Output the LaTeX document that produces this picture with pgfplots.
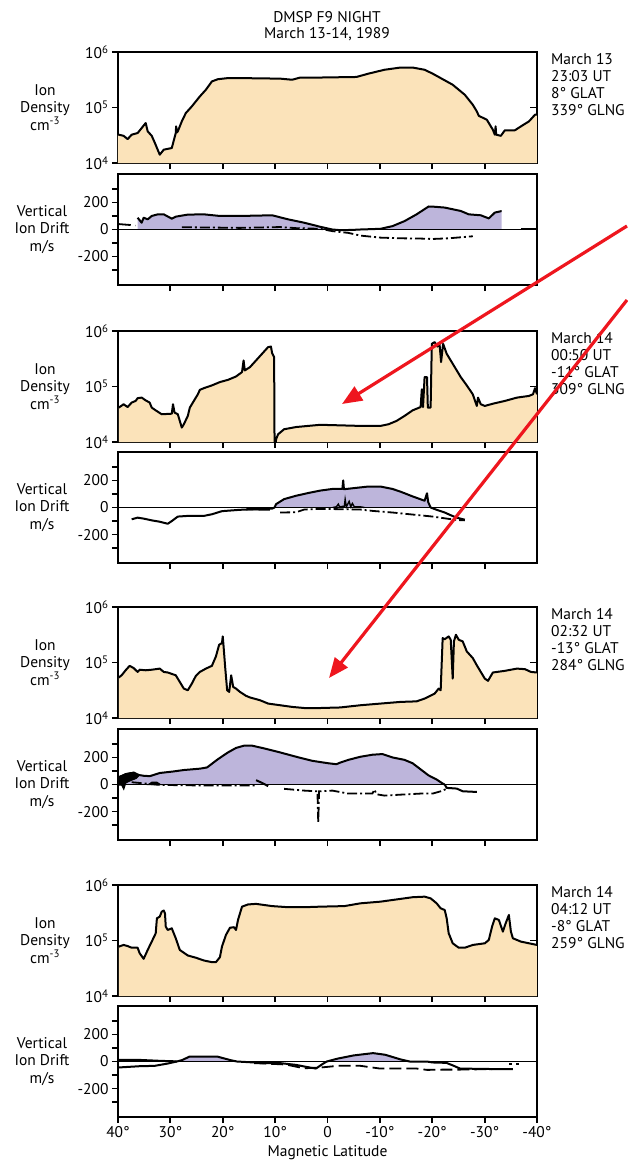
\documentclass[border=0pt]{standalone}
\usepackage{fontspec}
\setmainfont{PT Sans}
\usepackage{pgfplots}
\usepackage{pgfplotstable}
\pgfplotsset{compat=1.18}
\usetikzlibrary{arrows.meta}
\definecolor{peach}{RGB}{251,227,186}
\definecolor{lav}{RGB}{189,181,219}
\definecolor{arrowred}{RGB}{238,22,30}
\newcommand\lf{\fontsize{15.5}{17.2}\selectfont}

\pgfplotsset{
 base/.style={scale only axis, width=419pt, height=111pt, anchor=north west,
   xmin=-40, xmax=40, x dir=reverse,
   xtick={-30,-20,...,30}, xticklabels={},
   xtick pos=lower, ytick pos=left,
   tick align=outside, major tick length=6pt,
   every tick/.style={black, line width=1.8pt},
   axis line style={line width=2.1pt},
   tick label style={font=\lf},
   /pgf/number format/assume math mode=true,
   clip=true},
 dens/.style={base, ymin=4, ymax=6, ytick={4,5,6},
   yticklabels={10\textsuperscript{4},10\textsuperscript{5},10\textsuperscript{6}}},
 drift/.style={base, ymin=-410, ymax=410, ytick={-300,-200,...,300},
   yticklabels={,-200,,0,,200,}},
 curve/.style={black, line width=2pt, line join=round, mark=none},
 dd/.style={black, line width=1.8pt, mark=none, dash pattern=on 10pt off 3pt on 2pt off 3pt},
 dsh/.style={black, line width=1.8pt, mark=none, dash pattern=on 12pt off 5pt},
}

% ---------- log10 ion density, pass 1 ----------
\pgfplotstableread{
lat n
40 4.51
39.85 4.51
38.93 4.49
38.16 4.43
37.39 4.51
36.25 4.54
35.48 4.63
34.71 4.72
34.33 4.57
33.56 4.49
32.95 4.36
32.03 4.15
31.26 4.24
29.73 4.27
28.97 4.54
28.90 4.66
28.75 4.55
28.58 4.57
27.82 4.75
27.05 4.90
25.90 5.02
24.37 5.20
23.22 5.32
22.07 5.47
20.92 5.51
19.00 5.53
16.70 5.53
9.04 5.52
6.74 5.50
5.21 5.54
1.38 5.54
-5.52 5.55
-7.82 5.61
-10.88 5.68
-13.95 5.72
-16.25 5.72
-18.54 5.68
-20.08 5.61
-21.61 5.53
-23.91 5.41
-26.21 5.23
-27.74 5.05
-28.51 4.93
-28.89 4.85
-30.42 4.78
-31.57 4.60
-31.95 4.51
-32.10 4.66
-32.20 4.51
-33.10 4.49
-33.87 4.59
-35.79 4.59
-36.93 4.66
-38.47 4.75
-39.62 4.87
-40 4.87
}\dA

\pgfplotstableread{
lat v
36.25 87
35.48 50
35.10 87
34.33 75
33.56 100
32.41 112
31.26 112
29.73 80
28.97 95
26.67 110
23.60 112
20.54 100
16.70 100
10.57 105
7.51 75
4.44 50
1.38 20
-0.92 0
-2.45 -5
-4.75 -3
-6.28 0
-10.11 5
-12.41 25
-14.71 62
-17.01 112
-19.31 170
-20.46 168
-22.38 162
-25.44 137
-26.97 112
-29.27 105
-30.80 82
-31.95 125
-33.10 135
-33.26 135
}\vAf

\pgfplotstableread{
lat v
27.82 17
16.70 12
9.04 18
5.98 10
1.38 5
-0.92 -12
-3.98 -25
-6.28 -45
-10.11 -60
-13.95 -65
-17.78 -67
-20.08 -70
-23.14 -65
-27.74 -50
}\vAd

% ---------- pass 2 ----------
\pgfplotstableread{
lat n
39.85 4.62
38.93 4.68
38.16 4.63
37.39 4.71
36.63 4.74
36.25 4.79
35.48 4.80
34.71 4.75
33.95 4.71
33.56 4.62
32.80 4.57
31.65 4.50
29.73 4.51
29.50 4.68
29.20 4.53
28.58 4.50
28.20 4.38
27.82 4.26
27.43 4.32
26.67 4.47
26.28 4.62
25.52 4.74
24.75 4.86
24.37 4.94
23.60 4.97
22.07 5.02
20.54 5.08
19.00 5.12
17.47 5.18
16.32 5.26
16.02 5.47
15.79 5.29
14.79 5.35
13.64 5.47
12.49 5.59
11.34 5.71
10.80 5.72
10.57 5.60
10.19 5.53
10.11 4.00
9.96 3.90
9.81 4.05
9.43 4.14
8.28 4.23
5.98 4.27
3.68 4.29
1.38 4.31
-2.45 4.30
-6.28 4.29
-10.11 4.29
-11.65 4.32
-13.18 4.38
-14.71 4.47
-16.25 4.57
-17.78 4.63
-18.01 4.95
-18.24 4.63
-18.54 5.17
-19.00 5.17
-19.16 4.62
-19.69 4.62
-19.92 5.77
-20.46 5.80
-21.00 5.72
-21.38 5.78
-21.69 5.44
-22.07 5.77
-22.76 5.59
-23.91 5.41
-25.44 5.17
-26.59 5.02
-27.74 4.86
-28.51 4.65
-28.74 4.80
-29.27 4.68
-30.04 4.65
-31.57 4.69
-33.87 4.74
-36.17 4.80
-38.47 4.83
-39.23 4.86
-39.62 4.97
-40.00 4.86
}\dB

\pgfplotstableread{
lat v
37.39 -87
36.25 -75
35.10 -82
33.56 -95
32.03 -105
30.50 -120
29.73 -100
28.58 -67
26.67 -62
23.60 -62
22.07 -50
20.15 -27
16.70 -17
13.64 -12
10.57 -8
10.11 0
9.81 25
8.28 62
5.98 87
3.68 107
1.38 125
-0.92 137
-2.84 137
-3.00 200
-3.14 135
-4.75 142
-7.82 155
-10.11 155
-12.41 137
-13.95 117
-16.25 82
-18.54 50
-19.00 105
-19.23 40
-19.69 0
-20.84 -17
-22.38 -37
-23.53 -57
-24.67 -75
-26.21 -90
}\vBs

\pgfplotstableread{
lat v
10.11 0
9.81 25
8.28 62
5.98 87
3.68 107
1.38 125
-0.92 137
-2.84 137
-3.00 200
-3.14 135
-4.75 142
-7.82 155
-10.11 155
-12.41 137
-13.95 117
-16.25 82
-18.54 50
-19.00 105
-19.23 40
-19.69 0
}\vBf

\pgfplotstableread{
lat v
9.04 -37
5.98 -35
4.44 -15
1.38 -10
-6.28 -15
-8.58 -25
-12.41 -37
-17.01 -55
-20.08 -67
-22.38 -80
-24.67 -92
-26.21 -95
}\vBd

% ---------- pass 3 ----------
\pgfplotstableread{
lat n
39.85 4.73
39.31 4.77
38.54 4.86
37.78 4.94
37.01 4.90
36.25 4.83
35.86 4.87
34.71 4.86
33.56 4.87
32.03 4.89
31.26 4.83
30.50 4.82
28.97 4.77
28.20 4.65
27.43 4.53
26.67 4.50
25.90 4.62
25.13 4.76
24.37 4.83
23.22 4.89
22.07 4.94
21.30 5.11
20.69 5.32
20.15 5.35
20.00 5.47
19.85 5.30
19.54 4.92
19.16 4.50
18.77 4.47
18.39 4.77
18.01 4.56
17.47 4.53
16.70 4.47
15.56 4.40
14.79 4.37
12.87 4.32
11.34 4.26
9.04 4.23
6.74 4.20
4.44 4.18
1.38 4.18
-2.45 4.19
-6.28 4.23
-10.11 4.26
-13.95 4.29
-17.01 4.30
-18.54 4.35
-20.46 4.44
-21.23 4.53
-21.61 4.50
-21.99 5.44
-22.38 5.42
-23.14 5.47
-23.53 5.41
-23.91 4.71
-24.14 5.38
-24.52 5.50
-25.06 5.41
-25.82 5.38
-26.59 5.20
-27.74 5.08
-28.51 4.95
-29.27 4.83
-30.04 4.71
-30.65 4.67
-31.57 4.82
-33.87 4.85
-36.17 4.89
-37.70 4.88
-38.85 4.83
-40.00 4.82
}\dC

\pgfplotstableread{
lat v
39.85 55
38.50 75
37.00 88
36.00 70
35.00 64
33.90 62
32.03 85
29.50 96
27.43 107
24.37 117
23.00 126
20.92 187
19.00 237
17.47 270
15.94 287
14.41 287
12.11 267
9.04 237
5.98 205
2.91 175
-0.15 157
-1.69 150
-2.45 162
-3.98 182
-6.28 205
-8.58 220
-10.50 225
-12.41 200
-14.71 182
-16.25 157
-17.78 112
-19.31 67
-20.84 37
-21.99 7
-22.38 0
}\vCf

\pgfplotstableread{
lat v
8.28 -32
4.44 -45
2.15 -50
1.92 -50
1.76 -287
1.61 -50
-0.92 -45
-3.98 -67
-8.58 -67
-8.97 -37
-9.35 -72
-10.88 -82
-13.95 -75
-17.78 -67
-20.08 -67
-21.61 -50
-22.76 -32
}\vCd

% ---------- pass 4 ----------
\pgfplotstableread{
lat n
39.85 4.89
38.93 4.92
38.16 4.90
37.39 4.87
36.25 4.87
35.86 4.77
35.10 4.67
34.33 4.83
33.56 4.98
32.80 5.13
32.57 5.40
32.03 5.43
31.65 5.52
31.26 5.54
31.03 5.49
30.88 5.25
30.50 5.19
29.73 5.22
28.97 5.04
28.20 4.83
26.67 4.73
25.13 4.69
23.60 4.64
22.07 4.61
21.30 4.61
20.54 4.70
20.15 4.89
19.39 5.10
18.62 5.23
17.85 5.24
17.47 5.19
17.09 5.37
16.32 5.61
15.17 5.65
13.64 5.66
10.57 5.62
7.51 5.60
4.44 5.60
1.38 5.61
-3.22 5.62
-6.28 5.67
-10.11 5.70
-13.95 5.75
-16.25 5.78
-18.54 5.79
-19.69 5.76
-20.84 5.67
-21.61 5.58
-22.38 5.55
-22.76 5.40
-23.14 5.13
-23.91 4.95
-25.06 4.87
-26.21 4.87
-27.74 4.92
-30.04 4.95
-30.80 5.01
-31.42 5.25
-31.95 5.40
-32.72 5.37
-33.49 5.16
-34.02 5.31
-34.63 5.46
-35.02 5.16
-35.40 5.04
-36.93 4.98
-38.47 4.95
-40.00 4.92
}\dD

\pgfplotstableread{
lat v
39.85 12
36.00 12
32.00 5
29.50 2
28.80 0
27.80 10
26.30 37
21.10 37
18.50 10
17.30 0
15.00 -5
12.00 -12
9.00 -12
6.00 -25
4.00 -40
2.20 -52
1.00 -20
0.15 0
-2.00 22
-5.00 45
-8.70 62
-11.00 50
-14.00 15
-15.70 0
-19.00 0
-20.00 -7
-22.70 -10
-24.00 -30
-25.30 -52
-30.00 -55
-35.40 -57
}\vDa

\begin{document}
\begin{tikzpicture}
\useasboundingbox (0pt,0pt) rectangle (627pt,-1162pt);

% ===== Pass 1 =====
\begin{axis}[dens, name=d1, at={(118pt,-52pt)}]
\addplot[fill=peach, draw=none] table {\dA} \closedcycle;
\addplot[curve] table {\dA};
\draw[line width=1.8pt] (rel axis cs:1,0.5) -- ++(-7pt,0pt);
\end{axis}
\begin{axis}[drift, name=v1, at={(118pt,-174pt)}]
\addplot[fill=lav, draw=none] table {\vAf} \closedcycle;
\draw[line width=1.7pt] (axis cs:40,0) -- (axis cs:-40,0);
\addplot[curve] table {\vAf};
\addplot[dd] table {\vAd};
\addplot[dsh] coordinates {(39.85,40) (36.6,30)};
\addplot[curve] coordinates {(-36.93,5) (-40,5)};
\end{axis}

% ===== Pass 2 =====
\begin{axis}[dens, name=d2, at={(118pt,-331pt)}]
\addplot[fill=peach, draw=none] table {\dB} \closedcycle;
\addplot[curve] table {\dB};
\draw[line width=1.8pt] (rel axis cs:1,0.5) -- ++(-7pt,0pt);
\end{axis}
\begin{axis}[drift, name=v2, at={(118pt,-452pt)}]
\addplot[fill=lav, draw=none] table {\vBf} \closedcycle;
\draw[line width=1.7pt] (axis cs:40,0) -- (axis cs:-40,0);
\addplot[curve] table {\vBs};
\addplot[dd] table {\vBd};
\addplot[black, line width=1.4pt] coordinates {(-1.0,0) (-1.69,5) (-2.07,25) (-2.30,5) (-3.22,10) (-3.37,60) (-3.60,5) (-4.14,45) (-4.44,5) (-4.75,30) (-5.13,5) (-6.28,5) (-7.05,0)};
\addplot[black, line width=3pt] coordinates {(15.5,-10) (11.0,-12)};
\end{axis}

% ===== Pass 3 =====
\begin{axis}[dens, name=d3, at={(118pt,-607pt)}]
\addplot[fill=peach, draw=none] table {\dC} \closedcycle;
\addplot[curve] table {\dC};
\draw[line width=1.8pt] (rel axis cs:1,0.5) -- ++(-7pt,0pt);
\end{axis}
\begin{axis}[drift, name=v3, at={(118pt,-729pt)}]
\addplot[fill=lav, draw=none] table {\vCf} \closedcycle;
\draw[line width=1.7pt] (axis cs:40,0) -- (axis cs:-40,0);
\addplot[fill=black, draw=black, line width=1pt] coordinates {(39.9,-5) (39.9,55) (39.3,66) (38.6,80) (37.8,86) (37.0,90) (36.5,76) (36.0,66) (36.5,45) (37.5,30) (38.5,12) (38.9,-35) (39.3,-5)} -- cycle;
\addplot[curve] table {\vCf};
\addplot[curve] coordinates {(-22.38,0) (-22.76,-25) (-24.67,-30) (-25.82,-50) (-28.51,-55)};
\addplot[fill=black, draw=black, line width=1pt] coordinates {(34.2,0) (33.5,18) (32.6,18) (31.9,0)} -- cycle;
\addplot[dd] coordinates {(37.39,17) (32.03,-3) (24.37,-7) (13.64,-7)};
\addplot[curve] coordinates {(13.64,32) (12.5,12) (11.34,-12)};
\addplot[dd] table {\vCd};
\end{axis}

% ===== Pass 4 =====
\begin{axis}[dens, name=d4, at={(118pt,-885pt)}]
\addplot[fill=peach, draw=none] table {\dD} \closedcycle;
\addplot[curve] table {\dD};
\draw[line width=1.8pt] (rel axis cs:1,0.5) -- ++(-7pt,0pt);
\end{axis}
\begin{axis}[drift, name=v4, at={(118pt,-1006pt)},
   xtick={-40,-30,...,40},
   xticklabels={-40°,-30°,-20°,-10°,0,10°,20°,30°,40°}]
\addplot[fill=lav, draw=none] coordinates {(28.8,0) (27.8,10) (26.3,37) (21.1,37) (18.5,10) (17.3,0)} \closedcycle;
\addplot[fill=lav, draw=none] coordinates {(0.15,0) (-2.0,22) (-5.0,45) (-8.7,62) (-11.0,50) (-14.0,15) (-15.7,0)} \closedcycle;
\draw[line width=1.7pt] (axis cs:40,0) -- (axis cs:-40,0);
\addplot[curve] table {\vDa};
\addplot[curve] coordinates {(39.85,-44) (36.0,-35) (33.0,-32) (30.5,-15) (28.8,0)};
\addplot[dsh] coordinates {(14,-12) (12,-15) (8,-22) (4.5,-50) (1.5,-45) (-2,-32) (-6.3,-32) (-10,-52) (-13.5,-52) (-17,-52) (-19,-62) (-22,-60) (-25,-60) (-30,-57) (-33,-55)};
\addplot[dsh, dash pattern=on 3pt off 4pt] coordinates {(-34.7,-20) (-37,-20)};
\end{axis}

% ===== labels =====
\foreach \p in {d1,d2,d3,d4}{
  \node[align=center, font=\lf] at ([xshift=-73pt]\p.west) {Ion\\Density\\cm\textsuperscript{-3}};
}
\foreach \p in {v1,v2,v3,v4}{
  \node[align=center, font=\lf] at ([xshift=-76pt]\p.west) {Vertical\\Ion Drift\\m/s};
}
\node[anchor=north west, align=left, inner sep=0pt, font=\lf] at ([xshift=14pt,yshift=-1pt]d1.north east) {March 13\\23:03 UT\\8° GLAT\\339° GLNG};
\node[anchor=north west, align=left, inner sep=0pt, font=\lf] at ([xshift=14pt,yshift=-1pt]d2.north east) {March 14\\00:50 UT\\-11° GLAT\\309° GLNG};
\node[anchor=north west, align=left, inner sep=0pt, font=\lf] at ([xshift=14pt,yshift=-1pt]d3.north east) {March 14\\02:32 UT\\-13° GLAT\\284° GLNG};
\node[anchor=north west, align=left, inner sep=0pt, font=\lf] at ([xshift=14pt,yshift=-1pt]d4.north east) {March 14\\04:12 UT\\-8° GLAT\\259° GLNG};

\node[align=center, font=\fontsize{15.5}{16.5}\selectfont] at (327pt,-26pt) {DMSP F9 NIGHT\\March 13-14, 1989};
\node[font=\lf] at (327.5pt,-1153pt) {Magnetic Latitude};

% ===== annotation arrows =====
\draw[arrowred, line width=3.2pt, -{Triangle[length=20pt,width=16pt]}] (627pt,-226pt) -- (342pt,-404pt);
\draw[arrowred, line width=3.2pt, -{Triangle[length=20pt,width=16pt]}] (627pt,-300pt) -- (329pt,-678pt);
\end{tikzpicture}
\end{document}
